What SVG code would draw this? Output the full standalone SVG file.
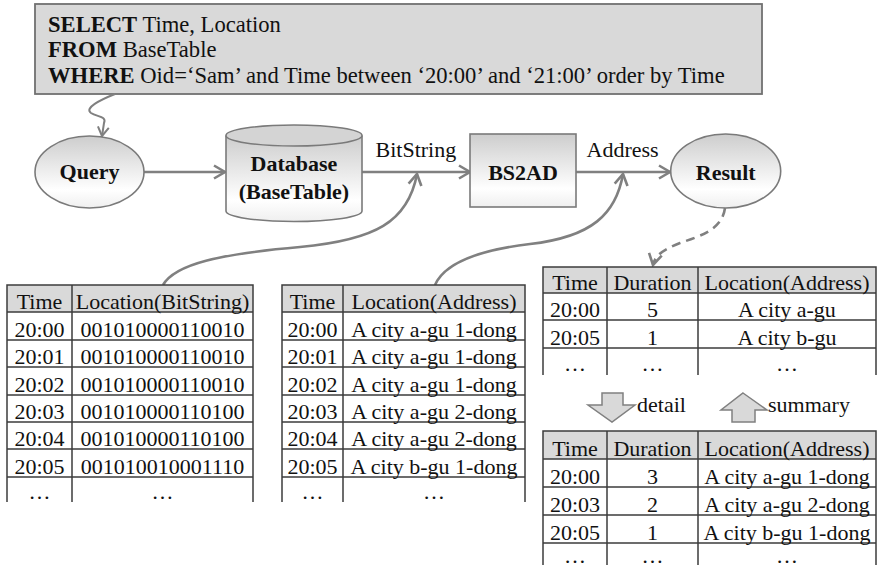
<svg xmlns="http://www.w3.org/2000/svg" width="878" height="568" viewBox="0 0 878 568" font-family="'Liberation Serif', 'DejaVu Serif', 'Noto Serif', serif">
<style>
text{fill:#111}
.sql{font-size:22.6px}
.b{font-weight:bold}
.lbl{font-size:22px;font-weight:bold;text-anchor:middle}
.edge{font-size:22px}
.t{font-size:22px;text-anchor:middle}
.node{stroke:#7a7a7a;stroke-width:1.6}
.conn{fill:none;stroke:#808080;stroke-width:2.6}
.grid{stroke:#3c3c3c;stroke-width:1.5;fill:none}
.hdr{fill:#d9d9d9}
.blk{fill:#d9d9d9;stroke:#808080;stroke-width:1.5}
</style>
<defs>
<linearGradient id="g" x1="0" y1="0" x2="0" y2="1">
<stop offset="0" stop-color="#cdcdcd"/>
<stop offset="0.75" stop-color="#ffffff"/>
<stop offset="1" stop-color="#efefef"/>
</linearGradient>
<marker id="ah" markerUnits="userSpaceOnUse" markerWidth="20" markerHeight="20" viewBox="-14 -10 20 20" refX="0" refY="0" orient="auto">
<path d="M-11,-6.5 L0,0 L-11,6.5" fill="none" stroke="#808080" stroke-width="2.6"/>
</marker>
<marker id="ahs" markerUnits="userSpaceOnUse" markerWidth="20" markerHeight="20" viewBox="-14 -10 20 20" refX="0" refY="0" orient="auto">
<path d="M-9,-5.5 L0,0 L-9,5.5" fill="none" stroke="#808080" stroke-width="2"/>
</marker>
</defs>

<g id="sql">
<rect x="35" y="4" width="727" height="90" fill="#d9d9d9" stroke="#707070" stroke-width="1.8"/>
<text class="sql" x="48" y="31.5"><tspan class="b">SELECT</tspan> Time, Location</text>
<text class="sql" x="48" y="57"><tspan class="b">FROM</tspan> BaseTable</text>
<text class="sql" x="48" y="83"><tspan class="b">WHERE</tspan> Oid=‘Sam’ and Time between ‘20:00’ and ‘21:00’ order by Time</text>
</g>

<g id="connectors">
<path class="conn" style="stroke-width:2" d="M115,94 C100,100 84,108 91,113 C97,117 107,116 104,123 L102,136" marker-end="url(#ahs)"/>
<path class="conn" d="M144,172 L225,172" marker-end="url(#ah)"/>
<path class="conn" d="M362,172 L470,172" marker-end="url(#ah)"/>
<path class="conn" d="M576,172 L670,172" marker-end="url(#ah)"/>
<path class="conn" d="M163,285 C175,264 220,254 300,247 C375,240 408,222 417,174" marker-end="url(#ah)"/>
<path class="conn" d="M435,285 C445,262 480,250 530,244 C592,237 616,214 623,174" marker-end="url(#ah)"/>
<path class="conn" style="stroke-dasharray:9 6" d="M725,208 C722,230 700,236 680,243 C662,250 655,256 653,265" marker-end="url(#ah)"/>
</g>

<g id="query">
<ellipse class="node" cx="89.5" cy="172" rx="54.5" ry="36" fill="url(#g)"/>
<text class="lbl" x="89.5" y="179">Query</text>
</g>

<g id="database">
<path class="node" fill="url(#g)" d="M226,135.5 L226,211 A68,10.5 0 0 0 362,211 L362,135.5"/>
<ellipse class="node" cx="294" cy="135.5" rx="68" ry="10.5" fill="#d4d4d4"/>
<text class="lbl" x="294" y="171">Database</text>
<text class="lbl" x="294" y="199">(BaseTable)</text>
</g>

<g id="bs2ad">
<rect class="node" x="470" y="134" width="106" height="73" fill="url(#g)"/>
<text class="lbl" x="523" y="180">BS2AD</text>
</g>

<g id="result">
<ellipse class="node" cx="725.7" cy="171" rx="55" ry="37" fill="url(#g)"/>
<text class="lbl" x="725.7" y="180">Result</text>
</g>

<g id="edge-labels">
<text class="edge" x="375.5" y="157">BitString</text>
<text class="edge" x="586.5" y="157">Address</text>
</g>

<g id="table-bitstring">
<rect class="hdr" x="7" y="285" width="246" height="27"/>
<path class="grid" d="M7,502 V285 H253 V502 M72,285 V502 M7,312 H253 M7,340 H253 M7,367 H253 M7,395 H253 M7,422 H253 M7,449 H253 M7,477 H253"/>
<text class="t" x="39.5" y="308.5">Time</text><text class="t" x="162.5" y="308.5">Location(BitString)</text>
<text class="t" x="39.5" y="336.5">20:00</text><text class="t" x="162.5" y="336.5">001010000110010</text>
<text class="t" x="39.5" y="363.5">20:01</text><text class="t" x="162.5" y="363.5">001010000110010</text>
<text class="t" x="39.5" y="391.5">20:02</text><text class="t" x="162.5" y="391.5">001010000110010</text>
<text class="t" x="39.5" y="418.5">20:03</text><text class="t" x="162.5" y="418.5">001010000110100</text>
<text class="t" x="39.5" y="445.5">20:04</text><text class="t" x="162.5" y="445.5">001010000110100</text>
<text class="t" x="39.5" y="473.5">20:05</text><text class="t" x="162.5" y="473.5">001010010001110</text>
<text class="t" x="39.5" y="499">…</text><text class="t" x="162.5" y="499">…</text>
</g>

<g id="table-address">
<rect class="hdr" x="282" y="285" width="243" height="27"/>
<path class="grid" d="M282,502 V285 H525 V502 M343,285 V502 M282,312 H525 M282,340 H525 M282,367 H525 M282,395 H525 M282,422 H525 M282,449 H525 M282,477 H525"/>
<text class="t" x="312.5" y="308.5">Time</text><text class="t" x="434" y="308.5">Location(Address)</text>
<text class="t" x="312.5" y="336.5">20:00</text><text class="t" x="434" y="336.5">A city a-gu 1-dong</text>
<text class="t" x="312.5" y="363.5">20:01</text><text class="t" x="434" y="363.5">A city a-gu 1-dong</text>
<text class="t" x="312.5" y="391.5">20:02</text><text class="t" x="434" y="391.5">A city a-gu 1-dong</text>
<text class="t" x="312.5" y="418.5">20:03</text><text class="t" x="434" y="418.5">A city a-gu 2-dong</text>
<text class="t" x="312.5" y="445.5">20:04</text><text class="t" x="434" y="445.5">A city a-gu 2-dong</text>
<text class="t" x="312.5" y="473.5">20:05</text><text class="t" x="434" y="473.5">A city b-gu 1-dong</text>
<text class="t" x="312.5" y="499">…</text><text class="t" x="434" y="499">…</text>
</g>

<g id="table-summary">
<rect class="hdr" x="543" y="267" width="333" height="26"/>
<path class="grid" d="M543,375 V267 H876 V375 M607,267 V375 M698,267 V375 M543,293 H876 M543,320 H876 M543,348 H876"/>
<text class="t" x="575" y="289.5">Time</text><text class="t" x="652.5" y="289.5">Duration</text><text class="t" x="787" y="289.5">Location(Address)</text>
<text class="t" x="575" y="316.5">20:00</text><text class="t" x="652.5" y="316.5">5</text><text class="t" x="787" y="316.5">A city a-gu</text>
<text class="t" x="575" y="344.5">20:05</text><text class="t" x="652.5" y="344.5">1</text><text class="t" x="787" y="344.5">A city b-gu</text>
<text class="t" x="575" y="371">…</text><text class="t" x="652.5" y="371">…</text><text class="t" x="787" y="371">…</text>
</g>

<g id="detail-arrow">
<polygon class="blk" points="602,393 623,393 623,405 635,405 612,422 588,405 602,405"/>
<text class="edge" x="637" y="412">detail</text>
</g>

<g id="summary-arrow">
<polygon class="blk" points="743,393 767,410 755,410 755,422 732,422 732,410 721,410"/>
<text class="edge" x="768" y="412">summary</text>
</g>

<g id="table-detail">
<rect class="hdr" x="543" y="431" width="333" height="28"/>
<path class="grid" d="M543,565 V431 H876 V565 M607,431 V565 M698,431 V565 M543,459 H876 M543,487 H876 M543,515 H876 M543,543 H876"/>
<text class="t" x="575" y="455.5">Time</text><text class="t" x="652.5" y="455.5">Duration</text><text class="t" x="787" y="455.5">Location(Address)</text>
<text class="t" x="575" y="483.5">20:00</text><text class="t" x="652.5" y="483.5">3</text><text class="t" x="787" y="483.5">A city a-gu 1-dong</text>
<text class="t" x="575" y="511.5">20:03</text><text class="t" x="652.5" y="511.5">2</text><text class="t" x="787" y="511.5">A city a-gu 2-dong</text>
<text class="t" x="575" y="539.5">20:05</text><text class="t" x="652.5" y="539.5">1</text><text class="t" x="787" y="539.5">A city b-gu 1-dong</text>
<text class="t" x="575" y="563">…</text><text class="t" x="652.5" y="563">…</text><text class="t" x="787" y="563">…</text>
</g>
</svg>
